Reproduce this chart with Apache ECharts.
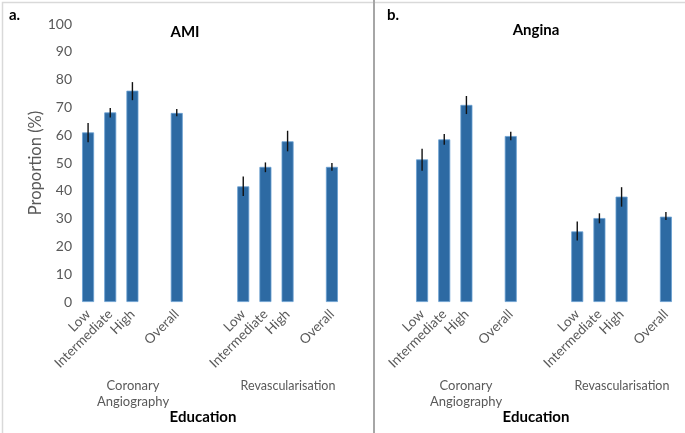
<!DOCTYPE html>
<html>
<head>
<meta charset="utf-8">
<script src="https://cdn.jsdelivr.net/npm/echarts@6/dist/echarts.min.js"></script>
<style>
  html, body { margin: 0; padding: 0; background: #fff; }
  #chart { width: 685px; height: 433px; }
</style>
</head>
<body>
<div id="chart"></div>
<script>
// categories (blank slots are the gaps between groups)
const categories = ['Low', 'Intermediate', 'High', '', 'Overall', '', '', 'Low', 'Intermediate', 'High', '', 'Overall']
const yTicks = [0, 10, 20, 30, 40, 50, 60, 70, 80, 90, 100]

// AMI (panel a)
const amiValues = [61, 68.2, 76, '-', 68, '-', '-', 41.6, 48.6, 57.8, '-', 48.6]
const amiLow = [57.5, 66.4, 72.6, '-', 66.8, '-', '-', 38.1, 46.7, 54.2, '-', 47.2]
const amiHigh = [64.4, 69.8, 79.1, '-', 69.4, '-', '-', 45.1, 50.2, 61.6, '-', 50.0]

// Angina (panel b)
const anginaValues = [51.3, 58.5, 70.9, '-', 59.7, '-', '-', 25.4, 30.2, 37.9, '-', 30.7]
const anginaLow = [47.2, 56.6, 67.6, '-', 58.2, '-', '-', 22.1, 28.3, 34.3, '-', 29.5]
const anginaHigh = [55.1, 60.4, 74.1, '-', 61.2, '-', '-', 29.0, 31.9, 41.3, '-', 32.4]

const chart = echarts.init(document.getElementById('chart'))
const FONT = 'Lato, "Open Sans", sans-serif'
const GREY = '#595959'

function errData(lo, hi) {
  const out = []
  lo.forEach((v, i) => { if (v !== '-') out.push([i, v, hi[i]]) })
  return out
}

function errSeries(idx, lo, hi) {
  return {
    type: 'custom',
    xAxisIndex: idx, yAxisIndex: idx,
    data: errData(lo, hi),
    z: 5,
    renderItem: (params, api) => {
      const p1 = api.coord([api.value(0), api.value(1)])
      const p2 = api.coord([api.value(0), api.value(2)])
      return {
        type: 'line',
        shape: { x1: p1[0], y1: p1[1], x2: p2[0], y2: p2[1] },
        style: { stroke: '#111', lineWidth: 1.4 }
      }
    }
  }
}

const xAxisBase = {
  type: 'category',
  data: categories,
  axisLine: { show: false },
  axisTick: { show: false },
  axisLabel: { rotate: 45, interval: 0, color: GREY, fontSize: 13.5, fontFamily: FONT, margin: 10 }
}
const yAxisBase = {
  type: 'value', min: 0, max: 100, interval: 10,
  splitLine: { show: false },
  axisLine: { show: false },
  axisTick: { show: false }
}
const barStyle = { color: '#2d6aa3', borderColor: '#6a9fd2', borderWidth: 0.8 }

const option = {
  animation: false,
  textStyle: { fontFamily: FONT },
  grid: [
    { left: 77, width: 266, top: 24, bottom: 131 },
    { left: 411, width: 266, top: 24, bottom: 131 }
  ],
  xAxis: [
    Object.assign({ gridIndex: 0 }, xAxisBase),
    Object.assign({ gridIndex: 1 }, xAxisBase)
  ],
  yAxis: [
    Object.assign({ gridIndex: 0, axisLabel: { color: GREY, fontSize: 14, fontFamily: FONT, margin: 5, formatter: v => yTicks.includes(v) ? v : '' },
      name: 'Proportion (%)', nameLocation: 'middle', nameGap: 33,
      nameTextStyle: { color: GREY, fontSize: 16.5, fontFamily: FONT } }, yAxisBase),
    Object.assign({ gridIndex: 1, axisLabel: { show: false } }, yAxisBase)
  ],
  series: [
    { type: 'bar', xAxisIndex: 0, yAxisIndex: 0, data: amiValues, barWidth: 12, itemStyle: barStyle },
    errSeries(0, amiLow, amiHigh),
    { type: 'bar', xAxisIndex: 1, yAxisIndex: 1, data: anginaValues, barWidth: 12, itemStyle: barStyle },
    errSeries(1, anginaLow, anginaHigh)
  ],
  graphic: [
    { type: 'rect', left: 0, top: 0, shape: { width: 684, height: 432 }, style: { fill: 'none', stroke: '#d9d9d9', lineWidth: 1.5 }, silent: true },
    { type: 'rect', left: 373, top: 0, shape: { width: 2, height: 433 }, style: { fill: '#a6a6a6' }, silent: true },
    { type: 'text', left: 9, top: 8, style: { text: 'a.', font: 'bold 15px ' + FONT, fill: '#000' } },
    { type: 'text', left: 387, top: 8, style: { text: 'b.', font: 'bold 15px ' + FONT, fill: '#000' } },
    { type: 'text', x: 185, y: 32, style: { text: 'AMI', font: 'bold 15px ' + FONT, fill: '#000', align: 'center', verticalAlign: 'middle' } },
    { type: 'text', x: 536, y: 30, style: { text: 'Angina', font: 'bold 15px ' + FONT, fill: '#000', align: 'center', verticalAlign: 'middle' } },
    { type: 'text', x: 133, y: 394, style: { text: 'Coronary\nAngiography', font: '13px ' + FONT, fill: GREY, align: 'center', verticalAlign: 'middle', lineHeight: 16 } },
    { type: 'text', x: 288, y: 386, style: { text: 'Revascularisation', font: '12.5px ' + FONT, fill: GREY, align: 'center', verticalAlign: 'middle' } },
    { type: 'text', x: 466, y: 394, style: { text: 'Coronary\nAngiography', font: '13px ' + FONT, fill: GREY, align: 'center', verticalAlign: 'middle', lineHeight: 16 } },
    { type: 'text', x: 622, y: 386, style: { text: 'Revascularisation', font: '12.5px ' + FONT, fill: GREY, align: 'center', verticalAlign: 'middle' } },
    { type: 'text', x: 203, y: 417, style: { text: 'Education', font: 'bold 15px ' + FONT, fill: '#000', align: 'center', verticalAlign: 'middle' } },
    { type: 'text', x: 536, y: 417, style: { text: 'Education', font: 'bold 15px ' + FONT, fill: '#000', align: 'center', verticalAlign: 'middle' } }
  ]
}
chart.setOption(option)
</script>
</body>
</html>
